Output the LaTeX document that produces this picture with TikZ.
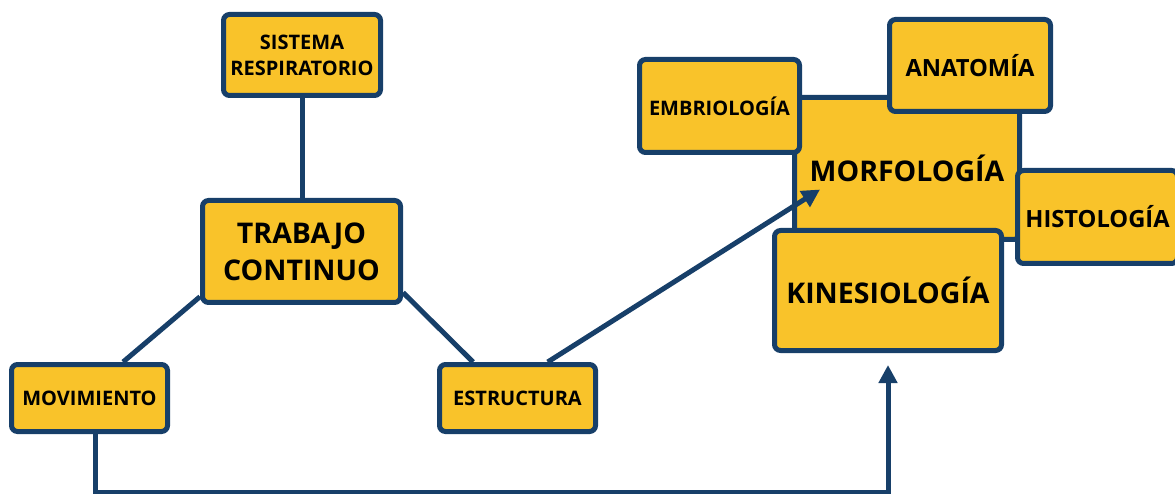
\documentclass[tikz,border=0pt]{standalone}
\usepackage{fontspec}
\setmainfont{Open Sans}
\usetikzlibrary{positioning}
\usetikzlibrary{arrows.meta}
\definecolor{amarillo}{HTML}{F9C32A}
\definecolor{azul}{HTML}{173F69}
\tikzset{
    mybox/.style = {rectangle, rounded corners=6pt, line width=5pt, draw=azul, fill=amarillo, align=center, inner sep=0pt, text=black, font=\bfseries\fontsize{20}{26}\selectfont},
    myboxm/.style = {mybox, font=\bfseries\fontsize{23.7}{28}\selectfont},
    myboxl/.style = {mybox, font=\bfseries\fontsize{28.5}{37}\selectfont},
    edgen/.style = {-, line width=5pt, azul},
    edgea/.style = {-{Triangle[length=18pt,width=18pt]}, line width=5pt, azul}, % arrow
}

\begin{document}
\begin{tikzpicture}[x=1pt,y=1pt]
  \useasboundingbox (0,0) rectangle (1175,-494);
  % left side
  \node[mybox, minimum width=157pt, minimum height=81pt] (sis) at (302,-55) {SISTEMA\\RESPIRATORIO};
  \node[myboxl, minimum width=198pt, minimum height=102pt] (trab) at (301.5,-251.5) {TRABAJO\\CONTINUO};
  \node[mybox, minimum width=156pt, minimum height=67pt] (mov) at (89.5,-398) {MOVIMIENTO};
  \node[mybox, minimum width=156pt, minimum height=67pt] (est) at (517.5,-398) {ESTRUCTURA};
  % right side
  \node[myboxl, minimum width=225pt, minimum height=142pt] (morf) at (907,-168.5) {MORFOLOGÍA};
  \node[mybox, minimum width=160pt, minimum height=93pt] (emb) at (719.5,-106) {EMBRIOLOGÍA};
  \node[myboxm, minimum width=161pt, minimum height=92pt] (anat) at (970,-65.5) {ANATOMÍA};
  \node[myboxm, minimum width=160pt, minimum height=93pt] (hist) at (1097.5,-217) {HISTOLOGÍA};
  \node[myboxl, minimum width=227pt, minimum height=120pt] (kin) at (888,-290.5) {KINESIOLOGÍA};
  \coordinate (morfin) at ([xshift=28pt,yshift=-21pt]morf.west);

  \draw[edgen] (sis.south) -- (sis.south |- trab.north);
  \draw[edgen] (trab.204) -- (mov.47);
  \draw[edgen] (trab.-22) -- (est.141);
  \draw[edgea] (est.50) -- (morfin);
  \draw[edgea, shorten >=12pt] ([xshift=5.5pt]mov.south) -- ++(0,-58.5) -| (kin.south);
\end{tikzpicture}
\end{document}
